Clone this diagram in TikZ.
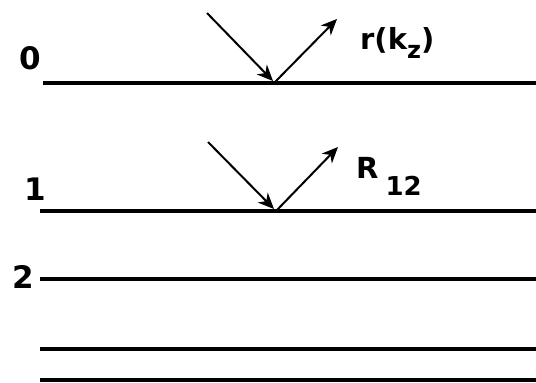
\documentclass[tikz,border=0pt]{standalone}
\usepackage{fontspec}
\setmainfont{DejaVu Sans}
\usetikzlibrary{arrows.meta}
\begin{document}
\begin{tikzpicture}[x=1pt,y=-1pt,
  layer/.style={line width=4pt},
  ray/.style={line width=2pt,-{Stealth[length=16pt,width=14pt,inset=5pt]}},
  lbl/.style={anchor=base west,inner sep=0pt,font=\fontsize{29}{31}\selectfont\bfseries},
  num/.style={anchor=base west,inner sep=0pt,font=\fontsize{31}{33}\selectfont\bfseries}]
\useasboundingbox (0,0) rectangle (536,383);
% layer boundaries
\coordinate (l0a) at (43,83);  \coordinate (l0b) at (536,83);
\coordinate (l1a) at (40,211); \coordinate (l1b) at (536,211);
\coordinate (l2a) at (40,279); \coordinate (l2b) at (536,279);
\coordinate (l3a) at (40,349); \coordinate (l3b) at (536,349);
\coordinate (l4a) at (40,380); \coordinate (l4b) at (536,380);
\draw[layer] (l0a) -- (l0b);
\draw[layer] (l1a) -- (l1b);
\draw[layer] (l2a) -- (l2b);
\draw[layer] (l3a) -- (l3b);
\draw[layer] (l4a) -- (l4b);
% labels
\node[num] (n0) at (19,69) {0};
\node[num] (n1) at (24,200) {1};
\node[num] (n2) at (12,288) {2};
% rays at interface 0
\coordinate (i0s) at (207,13);
\coordinate (h0) at (273,81);
\coordinate (h0r) at (275,82);
\coordinate (r0e) at (337,19);
\draw[ray] (i0s) -- (h0);
\draw[ray] (h0r) -- (r0e);
\node[lbl] (rk) at (360,49) {r(k\raisebox{-9pt}{\fontsize{24}{26}\selectfont z})};
% rays at interface 1
\coordinate (i1s) at (208,142);
\coordinate (h1) at (274,209);
\coordinate (h1r) at (277,210);
\coordinate (r1e) at (338,147);
\draw[ray] (i1s) -- (h1);
\draw[ray] (h1r) -- (r1e);
\node[lbl] (R12) at (356,178) {R\hspace{7pt}\raisebox{-17pt}{\fontsize{26}{28}\selectfont 12}};
\end{tikzpicture}
\end{document}
